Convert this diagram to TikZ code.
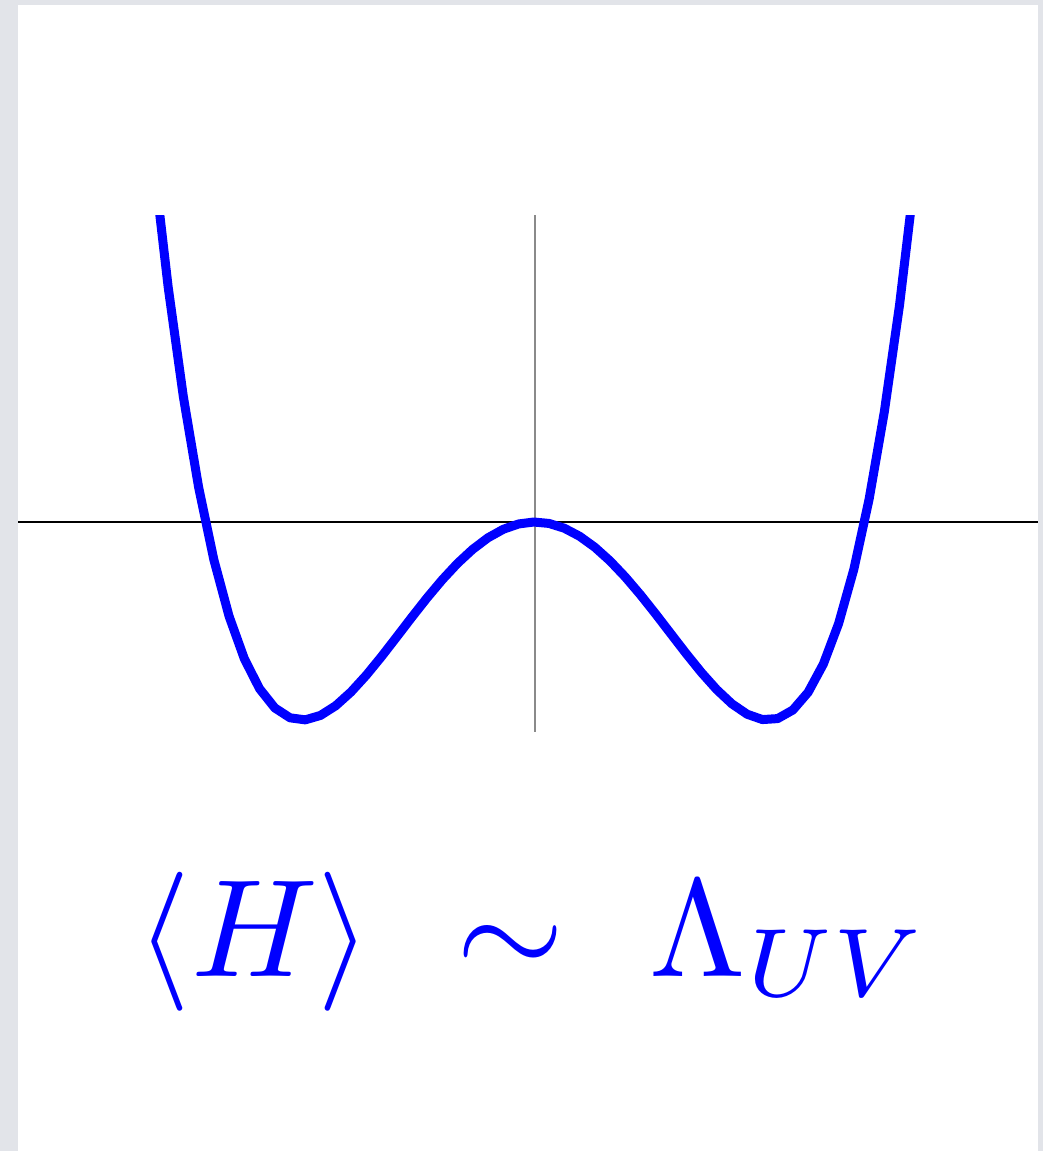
\documentclass[tikz,border=0pt]{standalone}
\usepackage{amsmath}
\definecolor{bggray}{HTML}{E2E4E9}
\definecolor{axisgray}{HTML}{8A8A8A}
\begin{document}
\begin{tikzpicture}[x=1pt,y=-1pt,
  curve/.style={blue,line width=9pt,line join=round},
  haxis/.style={black,line width=1.1pt},
  vaxis/.style={axisgray,line width=1.6pt}]
\fill[bggray] (0,0) rectangle (1043,1151);
\fill[white] (18,5) rectangle (1038,1151);
\useasboundingbox (0,0) rectangle (1043,1151);
% axes
\draw[haxis] (18,522) -- (1038,522);
\draw[vaxis] (535,215) -- (535,732);
% double-well potential
\begin{scope}
\clip (18,215) rectangle (1038,800);
\draw[curve] plot[domain=-1.64:1.63,samples=51,variable=\t]
  ({535+233*\t},{522+198*(2*\t*\t-\t*\t*\t*\t)});
\end{scope}
% label
\node[blue,inner sep=0pt,anchor=base,scale=13.9,transform shape] (lbl) at (533,976)
  {\normalsize$\langle H\rangle\ \sim\ \Lambda_{UV}$};
\end{tikzpicture}
\end{document}
